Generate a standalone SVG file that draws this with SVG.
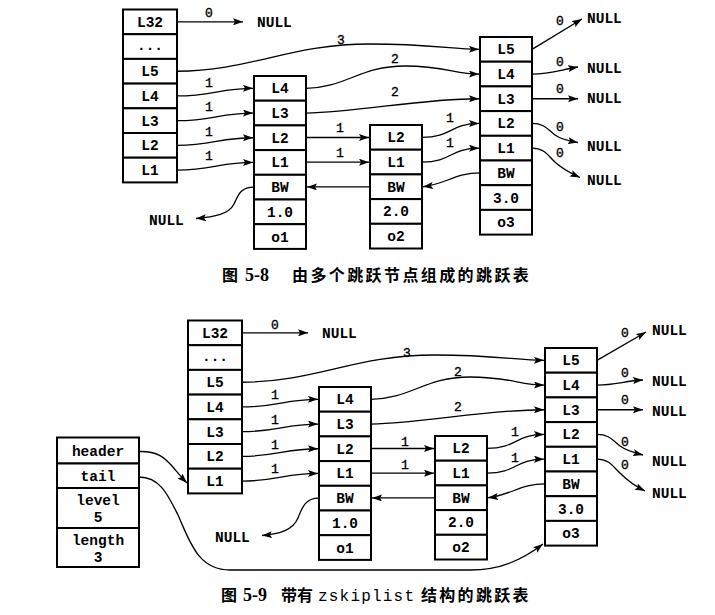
<svg xmlns="http://www.w3.org/2000/svg" width="715" height="615" viewBox="0 0 715 615">
<defs>
<marker id="ah" viewBox="0 0 10 7" refX="10" refY="3.5" markerWidth="10" markerHeight="7" markerUnits="userSpaceOnUse" orient="auto">
<path d="M0,0 L10,3.5 L0,7 L2,3.5 z" fill="#000"/>
</marker>
<style>
.b{fill:#fff;stroke:#000;stroke-width:2}
.t{font-family:"Liberation Mono",monospace;font-size:14.5px;font-weight:bold;text-anchor:middle;fill:#000}
.nl{font-family:"Liberation Mono",monospace;font-size:14.5px;font-weight:bold;fill:#000}
.lb{font-family:"Liberation Mono",monospace;font-size:13px;text-anchor:middle;fill:#000;stroke:#000;stroke-width:0.35}
.c{fill:none;stroke:#000;stroke-width:1.3;marker-end:url(#ah)}
.cap{font-family:"Liberation Serif","Noto Sans CJK SC",serif;font-size:16px;font-weight:bold;fill:#000}
.capn{font-family:"Liberation Serif",serif;font-size:18px;font-weight:bold;fill:#000}
.capm{font-family:"Liberation Mono",monospace;font-size:16px;fill:#000}
</style>
</defs>
<rect width="715" height="615" fill="#fff"/>

<!-- ===== Figure 5-8 ===== -->
<g id="top-header">
<rect class="b" x="123" y="9.5" width="54" height="24.7"/>
<rect class="b" x="123" y="34.2" width="54" height="24.7"/>
<rect class="b" x="123" y="58.9" width="54" height="24.7"/>
<rect class="b" x="123" y="83.6" width="54" height="24.7"/>
<rect class="b" x="123" y="108.3" width="54" height="24.7"/>
<rect class="b" x="123" y="133" width="54" height="24.7"/>
<rect class="b" x="123" y="157.7" width="54" height="24.7"/>
<text class="t" x="150" y="26.8">L32</text>
<text class="t" x="150" y="49.5">...</text>
<text class="t" x="150" y="76.2">L5</text>
<text class="t" x="150" y="100.9">L4</text>
<text class="t" x="150" y="125.6">L3</text>
<text class="t" x="150" y="150.3">L2</text>
<text class="t" x="150" y="175">L1</text>
</g>
<g id="top-node1">
<rect class="b" x="254" y="76" width="52" height="24.7"/>
<rect class="b" x="254" y="100.7" width="52" height="24.7"/>
<rect class="b" x="254" y="125.4" width="52" height="24.7"/>
<rect class="b" x="254" y="150.1" width="52" height="24.7"/>
<rect class="b" x="254" y="174.8" width="52" height="24.7"/>
<rect class="b" x="254" y="199.5" width="52" height="24.7"/>
<rect class="b" x="254" y="224.2" width="52" height="24.7"/>
<text class="t" x="280" y="93.3">L4</text>
<text class="t" x="280" y="118">L3</text>
<text class="t" x="280" y="142.7">L2</text>
<text class="t" x="280" y="167.4">L1</text>
<text class="t" x="280" y="192.1">BW</text>
<text class="t" x="280" y="216.8">1.0</text>
<text class="t" x="280" y="241.5">o1</text>
</g>
<g id="top-node2">
<rect class="b" x="370" y="125" width="52" height="24.7"/>
<rect class="b" x="370" y="149.7" width="52" height="24.7"/>
<rect class="b" x="370" y="174.4" width="52" height="24.7"/>
<rect class="b" x="370" y="199.1" width="52" height="24.7"/>
<rect class="b" x="370" y="223.8" width="52" height="24.7"/>
<text class="t" x="396" y="142.3">L2</text>
<text class="t" x="396" y="167">L1</text>
<text class="t" x="396" y="191.7">BW</text>
<text class="t" x="396" y="216.4">2.0</text>
<text class="t" x="396" y="241.1">o2</text>
</g>
<g id="top-node3">
<rect class="b" x="480" y="37" width="52" height="24.7"/>
<rect class="b" x="480" y="61.7" width="52" height="24.7"/>
<rect class="b" x="480" y="86.4" width="52" height="24.7"/>
<rect class="b" x="480" y="111.1" width="52" height="24.7"/>
<rect class="b" x="480" y="135.8" width="52" height="24.7"/>
<rect class="b" x="480" y="160.5" width="52" height="24.7"/>
<rect class="b" x="480" y="185.2" width="52" height="24.7"/>
<rect class="b" x="480" y="209.9" width="52" height="24.7"/>
<text class="t" x="506" y="54.3">L5</text>
<text class="t" x="506" y="79">L4</text>
<text class="t" x="506" y="103.7">L3</text>
<text class="t" x="506" y="128.4">L2</text>
<text class="t" x="506" y="153.1">L1</text>
<text class="t" x="506" y="177.8">BW</text>
<text class="t" x="506" y="202.5">3.0</text>
<text class="t" x="506" y="227.2">o3</text>
</g>
<g id="top-nulls">
<text class="nl" x="257" y="27">NULL</text>
<text class="nl" x="149" y="225">NULL</text>
<text class="nl" x="587" y="23">NULL</text>
<text class="nl" x="587" y="73">NULL</text>
<text class="nl" x="587" y="103">NULL</text>
<text class="nl" x="587" y="151">NULL</text>
<text class="nl" x="587" y="185">NULL</text>
</g>
<g id="top-connectors">
<path class="c" d="M177,21.85 H243"/>
<path class="c" d="M177,71.25 C250,71 290,44 370,44 C430,44 452,49.35 479,49.35"/>
<path class="c" d="M177,95.95 C212,95.95 220,88.35 253,88.35"/>
<path class="c" d="M177,120.65 C212,120.65 220,113.05 253,113.05"/>
<path class="c" d="M177,145.35 C212,145.35 220,137.75 253,137.75"/>
<path class="c" d="M177,170.05 C212,170.05 220,162.45 253,162.45"/>
<path class="c" d="M306,88.35 C345,88 360,66 405,66 C445,66 455,74.05 479,74.05"/>
<path class="c" d="M306,113.05 C360,112 420,98.75 479,98.75"/>
<path class="c" d="M306,137.5 H369"/>
<path class="c" d="M306,162.2 H369"/>
<path class="c" d="M422,137.35 C452,137.35 450,123.45 479,123.45"/>
<path class="c" d="M422,162.05 C452,162.05 450,148.15 479,148.15"/>
<path class="c" d="M370,186.9 H307"/>
<path class="c" d="M480,172.85 C456,172.85 446,184 423,186.75"/>
<path class="c" d="M254,187.15 C240,187 238,196 234,204 C229,214 215,217 196,218.5"/>
<path class="c" d="M532,49.35 L582,19"/>
<path class="c" d="M532,74.05 C550,74 560,70 578,67"/>
<path class="c" d="M532,98.75 H578"/>
<path class="c" d="M532,123.45 C545,123.45 548,130 555,135 C562,140 570,141 578,142.5"/>
<path class="c" d="M532,148.15 C545,148.15 548,156 556,163 C563,169 570,173 580,177.5"/>
<text class="lb" x="209" y="17">0</text>
<text class="lb" x="341" y="44">3</text>
<text class="lb" x="209" y="87">1</text>
<text class="lb" x="209" y="111">1</text>
<text class="lb" x="209" y="136">1</text>
<text class="lb" x="209" y="160">1</text>
<text class="lb" x="395" y="63">2</text>
<text class="lb" x="395" y="96">2</text>
<text class="lb" x="340" y="132">1</text>
<text class="lb" x="340" y="157">1</text>
<text class="lb" x="450" y="122">1</text>
<text class="lb" x="450" y="147">1</text>
<text class="lb" x="560" y="25">0</text>
<text class="lb" x="560" y="66">0</text>
<text class="lb" x="560" y="93">0</text>
<text class="lb" x="560" y="131">0</text>
<text class="lb" x="560" y="157">0</text>
</g>
<g id="caption-5-8">
<text class="cap" x="222" y="281">图</text>
<text class="capn" x="245" y="281">5-8</text>
<text class="cap" x="292" y="281" letter-spacing="2.4">由多个跳跃节点组成的跳跃表</text>
</g>

<!-- ===== Figure 5-9 ===== -->
<g id="zskiplist">
<rect class="b" x="57" y="437.5" width="82" height="26"/>
<rect class="b" x="57" y="463.5" width="82" height="24.5"/>
<rect class="b" x="57" y="488" width="82" height="40"/>
<rect class="b" x="57" y="528" width="82" height="39"/>
<text class="t" x="98" y="455.5">header</text>
<text class="t" x="98" y="481">tail</text>
<text class="t" x="98" y="505">level</text>
<text class="t" x="98" y="522">5</text>
<text class="t" x="98" y="545">length</text>
<text class="t" x="98" y="562">3</text>
</g>
<g id="bottom-header">
<rect class="b" x="188" y="320.5" width="54" height="24.7"/>
<rect class="b" x="188" y="345.2" width="54" height="24.7"/>
<rect class="b" x="188" y="369.9" width="54" height="24.7"/>
<rect class="b" x="188" y="394.6" width="54" height="24.7"/>
<rect class="b" x="188" y="419.3" width="54" height="24.7"/>
<rect class="b" x="188" y="444" width="54" height="24.7"/>
<rect class="b" x="188" y="468.7" width="54" height="24.7"/>
<text class="t" x="215" y="337.8">L32</text>
<text class="t" x="215" y="360.5">...</text>
<text class="t" x="215" y="387.2">L5</text>
<text class="t" x="215" y="411.9">L4</text>
<text class="t" x="215" y="436.6">L3</text>
<text class="t" x="215" y="461.3">L2</text>
<text class="t" x="215" y="486">L1</text>
</g>
<g id="bottom-node1">
<rect class="b" x="319" y="387" width="52" height="24.7"/>
<rect class="b" x="319" y="411.7" width="52" height="24.7"/>
<rect class="b" x="319" y="436.4" width="52" height="24.7"/>
<rect class="b" x="319" y="461.1" width="52" height="24.7"/>
<rect class="b" x="319" y="485.8" width="52" height="24.7"/>
<rect class="b" x="319" y="510.5" width="52" height="24.7"/>
<rect class="b" x="319" y="535.2" width="52" height="24.7"/>
<text class="t" x="345" y="404.3">L4</text>
<text class="t" x="345" y="429">L3</text>
<text class="t" x="345" y="453.7">L2</text>
<text class="t" x="345" y="478.4">L1</text>
<text class="t" x="345" y="503.1">BW</text>
<text class="t" x="345" y="527.8">1.0</text>
<text class="t" x="345" y="552.5">o1</text>
</g>
<g id="bottom-node2">
<rect class="b" x="435" y="436" width="52" height="24.7"/>
<rect class="b" x="435" y="460.7" width="52" height="24.7"/>
<rect class="b" x="435" y="485.4" width="52" height="24.7"/>
<rect class="b" x="435" y="510.1" width="52" height="24.7"/>
<rect class="b" x="435" y="534.8" width="52" height="24.7"/>
<text class="t" x="461" y="453.3">L2</text>
<text class="t" x="461" y="478">L1</text>
<text class="t" x="461" y="502.7">BW</text>
<text class="t" x="461" y="527.4">2.0</text>
<text class="t" x="461" y="552.1">o2</text>
</g>
<g id="bottom-node3">
<rect class="b" x="545" y="348" width="52" height="24.7"/>
<rect class="b" x="545" y="372.7" width="52" height="24.7"/>
<rect class="b" x="545" y="397.4" width="52" height="24.7"/>
<rect class="b" x="545" y="422.1" width="52" height="24.7"/>
<rect class="b" x="545" y="446.8" width="52" height="24.7"/>
<rect class="b" x="545" y="471.5" width="52" height="24.7"/>
<rect class="b" x="545" y="496.2" width="52" height="24.7"/>
<rect class="b" x="545" y="520.9" width="52" height="24.7"/>
<text class="t" x="571" y="365.3">L5</text>
<text class="t" x="571" y="390">L4</text>
<text class="t" x="571" y="414.7">L3</text>
<text class="t" x="571" y="439.4">L2</text>
<text class="t" x="571" y="464.1">L1</text>
<text class="t" x="571" y="488.8">BW</text>
<text class="t" x="571" y="513.5">3.0</text>
<text class="t" x="571" y="538.2">o3</text>
</g>
<g id="bottom-nulls">
<text class="nl" x="322" y="338">NULL</text>
<text class="nl" x="215" y="542">NULL</text>
<text class="nl" x="652" y="335">NULL</text>
<text class="nl" x="652" y="386">NULL</text>
<text class="nl" x="652" y="416">NULL</text>
<text class="nl" x="652" y="466">NULL</text>
<text class="nl" x="652" y="498">NULL</text>
</g>
<g id="bottom-connectors">
<path class="c" d="M242,332.85 H308"/>
<path class="c" d="M242,382.25 C315,382 355,355 435,355 C495,355 517,360.35 544,360.35"/>
<path class="c" d="M242,406.95 C277,406.95 285,399.35 318,399.35"/>
<path class="c" d="M242,431.65 C277,431.65 285,424.05 318,424.05"/>
<path class="c" d="M242,456.35 C277,456.35 285,448.75 318,448.75"/>
<path class="c" d="M242,481.05 C277,481.05 285,473.45 318,473.45"/>
<path class="c" d="M371,399.35 C410,399 425,377 470,377 C510,377 520,385.05 544,385.05"/>
<path class="c" d="M371,424.05 C425,423 485,409.75 544,409.75"/>
<path class="c" d="M371,448.5 H434"/>
<path class="c" d="M371,473.2 H434"/>
<path class="c" d="M487,448.35 C517,448.35 515,434.45 544,434.45"/>
<path class="c" d="M487,473.05 C517,473.05 515,459.15 544,459.15"/>
<path class="c" d="M435,497.9 H372"/>
<path class="c" d="M545,483.85 C521,483.85 511,495 488,497.75"/>
<path class="c" d="M319,498.15 C305,498 302,508 298,518 C293,530 280,534 262,535.5"/>
<path class="c" d="M597,360.35 L646,332"/>
<path class="c" d="M597,385.05 C615,385 625,381 643,380"/>
<path class="c" d="M597,409.75 H643"/>
<path class="c" d="M597,434.45 C610,434.45 613,441 620,446 C627,451 635,453 643,455"/>
<path class="c" d="M597,459.15 C610,459.15 613,467 621,474 C628,481 635,486 645,491"/>
<path class="c" d="M139,451.5 C158,451 165,458 172,466 C178,473 182,478 187,483"/>
<path class="c" d="M139,477 C160,477 168,495 178,515 C190,542 198,570 230,570 L470,570 C500,570 522,560 543,544"/>
<text class="lb" x="275" y="329">0</text>
<text class="lb" x="407" y="357">3</text>
<text class="lb" x="275" y="399">1</text>
<text class="lb" x="275" y="424">1</text>
<text class="lb" x="275" y="449">1</text>
<text class="lb" x="275" y="473">1</text>
<text class="lb" x="458" y="376">2</text>
<text class="lb" x="458" y="411">2</text>
<text class="lb" x="405" y="446">1</text>
<text class="lb" x="405" y="469">1</text>
<text class="lb" x="515" y="436">1</text>
<text class="lb" x="515" y="462">1</text>
<text class="lb" x="625" y="337">0</text>
<text class="lb" x="625" y="377">0</text>
<text class="lb" x="625" y="404">0</text>
<text class="lb" x="625" y="446">0</text>
<text class="lb" x="625" y="469">0</text>
</g>
<g id="caption-5-9">
<text class="cap" x="221" y="601">图</text>
<text class="capn" x="243" y="601">5-9</text>
<text class="cap" x="281" y="601">带有</text>
<text class="capm" x="318" y="601" letter-spacing="1.2">zskiplist</text>
<text class="cap" x="421" y="601" letter-spacing="2.3">结构的跳跃表</text>
</g>
</svg>
